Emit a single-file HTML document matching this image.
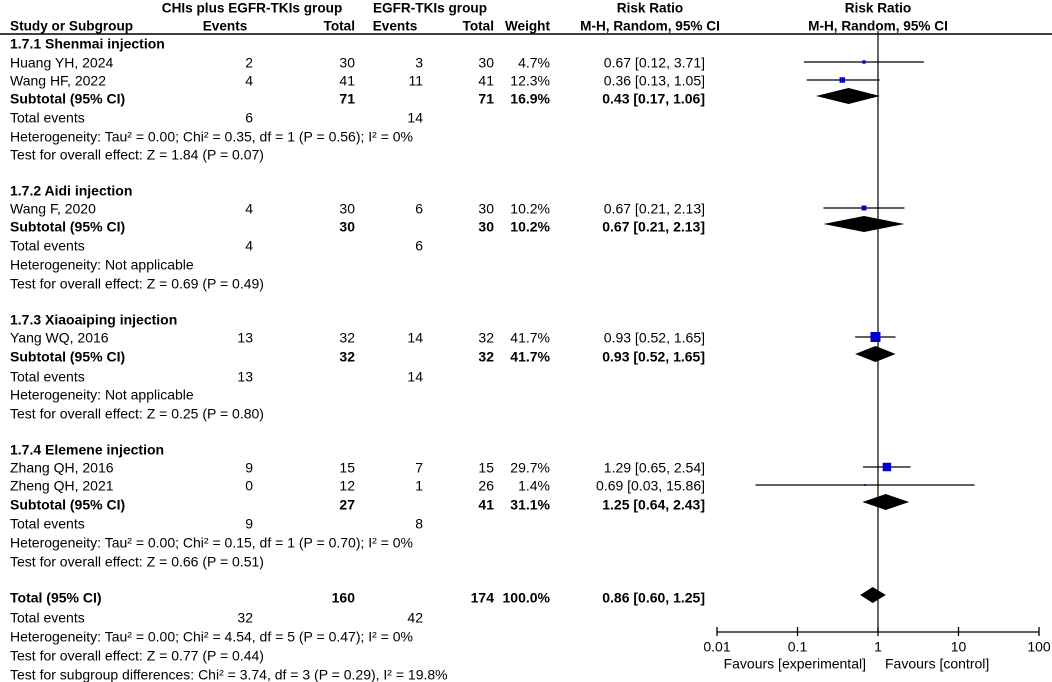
<!DOCTYPE html>
<html><head><meta charset="utf-8"><style>
html,body{margin:0;padding:0;background:#fff;}
svg{display:block;font-family:"Liberation Sans",Arial,sans-serif;font-size:14px;}
</style></head><body>
<svg id="chart" width="1052" height="682" viewBox="0 0 1052 682"></svg>
<script>
// ---- data ----
const studyNames = ["Huang YH, 2024","Wang HF, 2022","Wang F, 2020","Yang WQ, 2016","Zhang QH, 2016","Zheng QH, 2021"];
const studyRR = [0.67,0.36,0.67,0.93,1.29,0.69];
const studyLo = [0.12,0.13,0.21,0.52,0.65,0.03];
const studyHi = [3.71,1.05,2.13,1.65,2.54,15.86];
const studyWeight = [4.7,12.3,10.2,41.7,29.7,1.4];
const subRR = [0.43,0.67,0.93,1.25];
const subLo = [0.17,0.21,0.52,0.64];
const subHi = [1.06,2.13,1.65,2.43];
const totalRR = 0.86, totalLo = 0.60, totalHi = 1.25;
const axisTicks = [0.01,0.1,1,10,100];
const tickLabels = ["0.01","0.1","1","10","100"];

const svg = document.getElementById('chart');
const NS = 'http://www.w3.org/2000/svg';
function xs(v){ return 878 + 80.5*Math.log10(v); }
function el(tag, attrs){ const e=document.createElementNS(NS,tag); for(const k in attrs) e.setAttribute(k,attrs[k]); svg.appendChild(e); return e; }
function txt(x,y,s,anchor,bold,name,size){
  const e=el('text',{x:x,y:y+4.5,'text-anchor':anchor||'start','font-weight':bold?'bold':'normal',fill:'#000','font-size':size||14});
  e.textContent=s;
  
  
  return e;
}
// headers
txt(252,8,"CHIs plus EGFR-TKIs group","middle",true,"experimental-group-header",13.6);
txt(430,8,"EGFR-TKIs group","middle",true,"control-group-header",13.6);
txt(650,8,"Risk Ratio","middle",true,"rr-header",13.6);
txt(878,8,"Risk Ratio","middle",true,"rr-plot-header",13.6);
txt(10,26,"Study or Subgroup","start",true,"study-header",13.6);
txt(225,26,"Events","middle",true,"exp-events-header",13.6);
txt(355,26,"Total","end",true,"exp-total-header",13.6);
txt(395,26,"Events","middle",true,"ctrl-events-header",13.6);
txt(494,26,"Total","end",true,"ctrl-total-header",13.6);
txt(550,26,"Weight","end",true,"weight-header",13.6);
txt(650,26,"M-H, Random, 95% CI","middle",true,"ci-header",13.6);
txt(878,26,"M-H, Random, 95% CI","middle",true,"ci-plot-header",13.6);
let hl=el('line',{x1:0,y1:34,x2:1052,y2:34,stroke:'#000','stroke-width':1.5});



// null line
let nl=el('line',{x1:xs(1),y1:31,x2:xs(1),y2:632,stroke:'#000','stroke-width':1.2});



const fmt=v=>v.toFixed(2);
function row(y,cells,bold){
  const [name,e1,t1,e2,t2,w,ci]=cells;
  if(name!==null) txt(10,y,name,'start',bold,'row-label');
  if(e1!==null) txt(253,y,e1,'end',bold,'exp-events');
  if(t1!==null) txt(355,y,t1,'end',bold,'exp-total');
  if(e2!==null) txt(423,y,e2,'end',bold,'ctrl-events');
  if(t2!==null) txt(494,y,t2,'end',bold,'ctrl-total');
  if(w!==null) txt(550,y,w,'end',bold,'weight');
  if(ci!==null) txt(705,y,ci,'end',bold,'ci-text');
}
function study(i,y,e1,t1,e2,t2){
  row(y,[studyNames[i],e1,t1,e2,t2,studyWeight[i].toFixed(1)+'%',fmt(studyRR[i])+' ['+fmt(studyLo[i])+', '+fmt(studyHi[i])+']']);
  const l=el('line',{x1:xs(studyLo[i]),y1:y-1,x2:xs(studyHi[i]),y2:y-1,stroke:'#000','stroke-width':1.2});
  
  
  const s=1.55*Math.sqrt(studyWeight[i]);
  const r=el('rect',{x:xs(studyRR[i])-s/2,y:y-1-s/2,width:s,height:s,fill:'#0000cc'});
  
  
}
function diamond(rr,lo,hi,y){
  const d=el('polygon',{points:`${xs(lo)},${y} ${xs(rr)},${y-8} ${xs(hi)},${y} ${xs(rr)},${y+8}`,fill:'#000'});
  
  
}
function sub(j,y,t1,t2,w){
  row(y,['Subtotal (95% CI)',null,t1,null,t2,w,fmt(subRR[j])+' ['+fmt(subLo[j])+', '+fmt(subHi[j])+']'],true);
  diamond(subRR[j],subLo[j],subHi[j],y-3);
}
// group 1
txt(10,44,"1.7.1 Shenmai injection","start",true,"subgroup-title");
study(0,63,'2','30','3','30');
study(1,81,'4','41','11','41');
sub(0,99,'71','71','16.9%');
row(118,['Total events','6',null,'14',null,null,null]);
txt(10,137,"Heterogeneity: Tau² = 0.00; Chi² = 0.35, df = 1 (P = 0.56); I² = 0%");
txt(10,155,"Test for overall effect: Z = 1.84 (P = 0.07)");
// group 2
txt(10,191,"1.7.2 Aidi injection","start",true,"subgroup-title");
study(2,209,'4','30','6','30');
sub(1,227,'30','30','10.2%');
row(246,['Total events','4',null,'6',null,null,null]);
txt(10,265,"Heterogeneity: Not applicable");
txt(10,284,"Test for overall effect: Z = 0.69 (P = 0.49)");
// group 3
txt(10,320,"1.7.3 Xiaoaiping injection","start",true,"subgroup-title");
study(3,338,'13','32','14','32');
sub(2,357,'32','32','41.7%');
row(377,['Total events','13',null,'14',null,null,null]);
txt(10,395,"Heterogeneity: Not applicable");
txt(10,414,"Test for overall effect: Z = 0.25 (P = 0.80)");
// group 4
txt(10,450,"1.7.4 Elemene injection","start",true,"subgroup-title");
study(4,468,'9','15','7','15');
study(5,486,'0','12','1','26');
sub(3,505,'27','41','31.1%');
row(524,['Total events','9',null,'8',null,null,null]);
txt(10,543,"Heterogeneity: Tau² = 0.00; Chi² = 0.15, df = 1 (P = 0.70); I² = 0%");
txt(10,562,"Test for overall effect: Z = 0.66 (P = 0.51)");
// total
row(598,['Total (95% CI)',null,'160',null,'174','100.0%',fmt(totalRR)+' ['+fmt(totalLo)+', '+fmt(totalHi)+']'],true);
diamond(totalRR,totalLo,totalHi,595);
row(618,['Total events','32',null,'42',null,null,null]);
txt(10,637,"Heterogeneity: Tau² = 0.00; Chi² = 4.54, df = 5 (P = 0.47); I² = 0%");
txt(10,656,"Test for overall effect: Z = 0.77 (P = 0.44)");
txt(10,675,"Test for subgroup differences: Chi² = 3.74, df = 3 (P = 0.29), I² = 19.8%");

// axis
let ax=el('line',{x1:xs(axisTicks[0]),y1:632,x2:xs(axisTicks[axisTicks.length-1]),y2:632,stroke:'#000','stroke-width':1.3});


axisTicks.forEach((v,i)=>{
  const t=el('line',{x1:xs(v),y1:627,x2:xs(v),y2:636,stroke:'#000','stroke-width':1.3});
  
  
  txt(xs(v),647,tickLabels[i],'middle',false,'x-tick-label');
});
txt(866,664,"Favours [experimental]","end",false,"favours-experimental-label");
txt(885,664,"Favours [control]","start",false,"favours-control-label");
</script>
</body></html>
